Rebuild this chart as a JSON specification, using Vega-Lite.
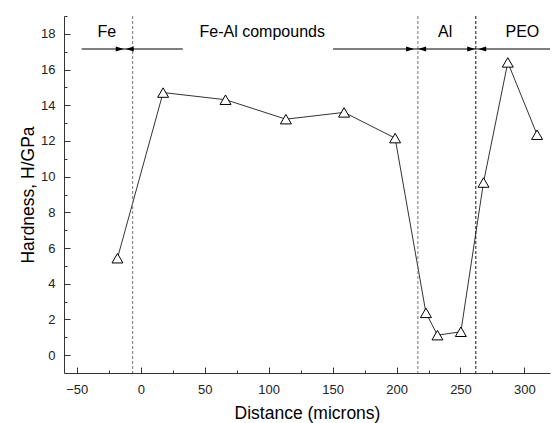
{
  "$schema": "https://vega.github.io/schema/vega-lite/v6.json",
  "width": 486,
  "height": 357,
  "autosize": "none",
  "padding": {"left": 64, "top": 16, "right": 3, "bottom": 50},
  "background": "white",
  "config": {
    "view": {"stroke": null},
    "font": "Liberation Sans",
    "axis": {"grid": false, "domainColor": "#333", "tickColor": "#333", "labelColor": "#222", "titleColor": "#000", "labelFont": "Liberation Sans", "titleFont": "Liberation Sans", "labelFontSize": 13, "titleFontSize": 17.5, "titleFontWeight": "normal", "labelOverlap": false}
  },
  "resolve": {"axis": {"x": "independent", "y": "independent"}},
  "datasets": {
    "pts": [
      {"d": -18.2, "h": 5.43},
      {"d": 17.5, "h": 14.71},
      {"d": 66.3, "h": 14.31},
      {"d": 113.5, "h": 13.22},
      {"d": 159, "h": 13.6},
      {"d": 198.9, "h": 12.16},
      {"d": 223, "h": 2.37},
      {"d": 232, "h": 1.12},
      {"d": 250.3, "h": 1.31},
      {"d": 268, "h": 9.67},
      {"d": 287, "h": 16.4},
      {"d": 309.9, "h": 12.35}
    ],
    "bounds": [
      {"d": -6.3, "kind": "grey"},
      {"d": 216.7, "kind": "grey"},
      {"d": 262, "kind": "black"}
    ],
    "segs": [
      {"d": -46.2, "d2": 32.9, "h": 17.15},
      {"d": 150.4, "d2": 320, "h": 17.15}
    ],
    "arrows": [
      {"d": -16.4, "h": 17.15, "dir": "right"},
      {"d": -8.6, "h": 17.15, "dir": "left"},
      {"d": 210.6, "h": 17.15, "dir": "right"},
      {"d": 220, "h": 17.15, "dir": "left"},
      {"d": 258.4, "h": 17.15, "dir": "right"},
      {"d": 267, "h": 17.15, "dir": "left"}
    ],
    "labels": [
      {"d": -26.6, "h": 18.1, "t": "Fe"},
      {"d": 95, "h": 18.1, "t": "Fe-Al compounds"},
      {"d": 238, "h": 18.1, "t": "Al"},
      {"d": 298.4, "h": 18.1, "t": "PEO"}
    ]
  },
  "layer": [
    {
      "data": {"name": "pts"},
      "mark": {"type": "line", "color": "#333", "strokeWidth": 1},
      "encoding": {
        "x": {"field": "d", "type": "quantitative", "scale": {"domain": [-60, 320], "nice": false, "zero": false},
          "axis": {"title": "Distance (microns)", "values": [-50,0,50,100,150,200,250,300],
            "tickSize": -6, "labelPadding": 16, "titlePadding": 8}},
        "y": {"field": "h", "type": "quantitative", "scale": {"domain": [-1, 19], "nice": false, "zero": false},
          "axis": {"title": "Hardness, H/GPa", "values": [0,2,4,6,8,10,12,14,16,18],
            "tickSize": -6, "labelPadding": 15, "titlePadding": 3}}
      }
    },
    {
      "data": {"name": "pts"},
      "mark": {"type": "point", "shape": "triangle-up", "size": 120, "filled": true, "fill": "white", "stroke": "black", "strokeWidth": 1, "opacity": 1},
      "encoding": {
        "x": {"field": "d", "type": "quantitative",
          "axis": {"title": null, "orient": "bottom", "values": [-25,25,75,125,175,225,275], "labels": false, "domain": false, "tickSize": -3}},
        "y": {"field": "h", "type": "quantitative",
          "axis": {"title": null, "orient": "left", "values": [1,3,5,7,9,11,13,15,17,19], "labels": false, "domain": false, "tickSize": -3}}
      }
    },
    {
      "data": {"name": "bounds"},
      "mark": {"type": "rule", "strokeDash": [3, 2], "strokeWidth": 1},
      "encoding": {
        "x": {"field": "d", "type": "quantitative", "axis": null},
        "color": {"field": "kind", "type": "nominal", "scale": {"domain": ["grey", "black"], "range": ["#777", "#111"]}, "legend": null}
      }
    },
    {
      "data": {"name": "segs"},
      "mark": {"type": "rule", "color": "black", "strokeWidth": 1.2},
      "encoding": {
        "x": {"field": "d", "type": "quantitative", "axis": null},
        "x2": {"field": "d2"},
        "y": {"field": "h", "type": "quantitative", "axis": null}
      }
    },
    {
      "data": {"name": "arrows"},
      "mark": {"type": "point", "filled": true, "color": "black", "size": 64, "opacity": 1},
      "encoding": {
        "x": {"field": "d", "type": "quantitative", "axis": null},
        "y": {"field": "h", "type": "quantitative", "axis": null},
        "shape": {"field": "dir", "type": "nominal", "scale": {"domain": ["right", "left"], "range": ["M1,0L-1,-0.6L-1,0.6Z", "M-1,0L1,-0.6L1,0.6Z"]}, "legend": null}
      }
    },
    {
      "data": {"name": "labels"},
      "mark": {"type": "text", "font": "Liberation Sans", "fontSize": 16, "color": "black", "align": "center", "baseline": "middle"},
      "encoding": {
        "x": {"field": "d", "type": "quantitative", "axis": null},
        "y": {"field": "h", "type": "quantitative", "axis": null},
        "text": {"field": "t"}
      }
    }
  ]
}
